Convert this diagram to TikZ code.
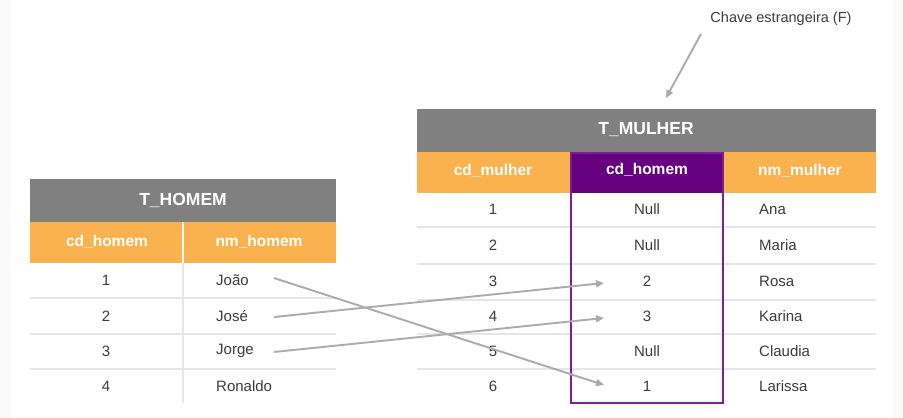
\documentclass[tikz,border=0pt]{standalone}
\usepackage{fontspec}
\setmainfont{Liberation Sans}
\usetikzlibrary{arrows.meta}
\definecolor{titlegray}{HTML}{808080}
\definecolor{hdrorange}{HTML}{FAB24F}
\definecolor{fkpurple}{HTML}{660080}
\definecolor{fkline}{HTML}{7B2090}
\definecolor{rowline}{HTML}{E6E6E6}
\definecolor{txt}{HTML}{3C3C3C}
\definecolor{arrowgray}{HTML}{ABABAB}
\definecolor{edge}{HTML}{FAFAFA}
\begin{document}
\begin{tikzpicture}[x=1pt,y=-1pt,
  titletxt/.style={text=white,font=\fontsize{17.5}{20}\selectfont\bfseries,inner sep=0pt},
  hdrtxt/.style={text=white,font=\fontsize{15.5}{18}\selectfont\bfseries,inner sep=0pt},
  celltxt/.style={text=txt,font=\fontsize{15}{18}\selectfont,inner sep=0pt},
  nametxt/.style={celltxt,anchor=west},
  sep/.style={draw=rowline,line width=2pt},
  fk/.style={draw=arrowgray,line width=1.9pt,-{Triangle[length=8pt,width=7pt]}},
]
\useasboundingbox (0,0) rectangle (903,418);
\fill[white] (0,0) rectangle (903,418);
\fill[edge] (0,0) rectangle (10,418);
\fill[edge] (894,0) rectangle (903,418);

% ---------- T_HOMEM ----------
\fill[titlegray] (30,179) rectangle (336,222);
\fill[hdrorange] (30,222) rectangle (336,263);
\draw[white,line width=2pt] (183,222) -- (183,263);
\draw[sep] (183,263) -- (183,403);
\foreach \y in {298,334,369} \draw[sep] (30,\y) -- (336,\y);
\node[titletxt] (th) at (183,200) {T\_HOMEM};
\node[hdrtxt] (thc1) at (107,242) {cd\_homem};
\node[hdrtxt] (thc2) at (259,242) {nm\_homem};
\node[celltxt] (h1) at (106,280) {1};
\node[celltxt] (h2) at (106,316) {2};
\node[celltxt] (h3) at (106,351) {3};
\node[celltxt] (h4) at (106,386) {4};
\node[nametxt] (joao) at (216,280) {João};
\node[nametxt] (jose) at (216,316) {José};
\node[nametxt] (jorge) at (216,351) {Jorge};
\node[nametxt] (ronaldo) at (216,386) {Ronaldo};

% ---------- T_MULHER ----------
\fill[titlegray] (417,109) rectangle (876,152);
\fill[hdrorange] (417,152) rectangle (876,193);
\fill[fkpurple] (570,152) rectangle (724,193);
\foreach \y in {227,264,300,334,369} \draw[sep] (417,\y) -- (876,\y);
\draw[fkline,line width=2pt] (571,153) rectangle (723,403);
\node[titletxt] (tm) at (646,130) {T\_MULHER};
\node[hdrtxt] (tmc1) at (493,171) {cd\_mulher};
\node[hdrtxt] (tmc2) at (647,170) {cd\_homem};
\node[hdrtxt] (tmc3) at (800,171) {nm\_mulher};
\foreach \i/\y/\v/\n in {1/209/Null/Ana,2/245/Null/Maria,3/281/2/Rosa,4/316/3/Karina,5/351/Null/Claudia,6/386/1/Larissa}{
  \node[celltxt] (m\i) at (493,\y) {\i};
  \node[celltxt] (f\i) at (647,\y) {\v};
  \node[nametxt] (n\i) at (759,\y) {\n};
}

% ---------- connectors ----------
\coordinate (s1) at (274,278);
\coordinate (s2) at (274,317);
\coordinate (s3) at (274,352);
\coordinate (e1) at (604,385);
\coordinate (e2) at (604,283);
\coordinate (e3) at (604,318);
\draw[fk] (s1) -- (e1);
\draw[fk] (s2) -- (e2);
\draw[fk] (s3) -- (e3);

\node[celltxt,font=\fontsize{14.5}{17}\selectfont] (lbl) at (781,19) {Chave estrangeira (F)};
\coordinate (ls) at (701,34);
\coordinate (le) at (666,98);
\draw[fk] (ls) -- (le);
\end{tikzpicture}
\end{document}
